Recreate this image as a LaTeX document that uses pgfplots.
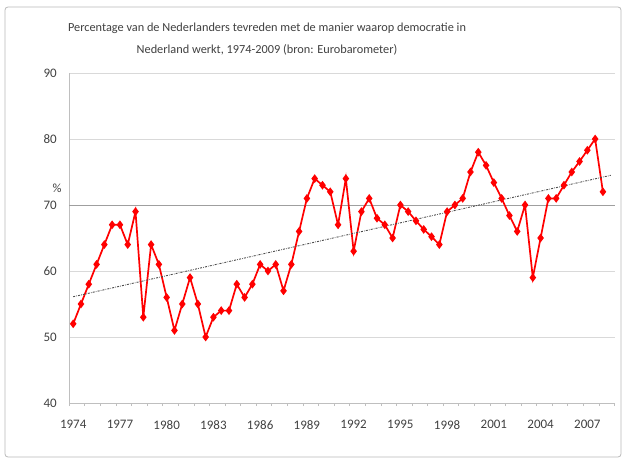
\documentclass[border=0pt]{standalone}
\usepackage{fontspec}
\setmainfont{Carlito}
\usepackage{pgfplots}
\usepackage{pgfplotstable}
\pgfplotsset{compat=1.18}
\definecolor{txt}{HTML}{404040}
\definecolor{axisgray}{HTML}{BFBFBF}
\pgfplotstableread{
x y
0 52
1 55
2 58
3 61
4 64
5 67
6 67
7 64
8 69
9 53
10 64
11 61
12 56
13 51
14 55
15 59
16 55
17 50
18 53
19 54
20 54
21 58
22 56
23 58
24 61
25 60
26 61
27 57
28 61
29 66
30 71
31 74
32 73
33 72
34 67
35 74
36 63
37 69
38 71
39 68
40 67
41 65
42 70
43 69
44 67.6
45 66.3
46 65.2
47 64
48 69
49 70
50 71
51 75
52 78
53 76
54 73.4
55 71
56 68.4
57 66
58 70
59 59
60 65
61 71
62 71
63 73
64 75
65 76.6
66 78.3
67 80
68 72
}\datatable
\begin{document}
\begin{tikzpicture}[x=1pt,y=1pt]
\draw[gray!55, line width=0.8pt, rounded corners=3pt] (5,6) rectangle (621,456);
\node[text=txt, align=center, font=\fontsize{12.3}{22}\selectfont] at (267,424) {Percentage van de Nederlanders tevreden met de manier waarop democratie in\\Nederland werkt, 1974-2009 (bron: Eurobarometer)};
\node[text=txt, font=\fontsize{12.5}{14}\selectfont] at (57,275) {\%};
\begin{axis}[
  at={(69.3pt,60pt)}, anchor=south west,
  scale only axis, width=545.3pt, height=330pt,
  xmin=-0.5, xmax=69.5, ymin=40, ymax=90,
  axis x line*=bottom, axis y line*=left,
  axis line style={axisgray, line width=0.8pt, -},
  xtick={0,6,...,66},
  xticklabels={1974,1977,1980,1983,1986,1989,1992,1995,1998,2001,2004,2007},
  minor xtick={-0.5,1.5,...,69.5},
  tick align=outside,
  major tick length=0pt, minor tick length=3pt,
  minor tick style={axisgray, line width=0.8pt},
  ytick={40,50,...,90},
  ymajorgrids, grid style={gray!30, line width=0.8pt},
  tick label style={font=\fontsize{13}{15}\selectfont, text=txt},
  /pgf/number format/assume math mode=true,
  xticklabel style={yshift=-14pt},
  yticklabel style={xshift=-9pt},
  clip=false,
]
\addplot[gray!75, line width=0.8pt, forget plot] coordinates {(-0.5,70) (69.5,70)};
\addplot[red, line width=1.7pt, mark=diamond*, mark size=3pt, mark options={solid, fill=red}] table[x=x, y=y] {\datatable};
\addplot[black!70, line width=0.9pt, dash pattern=on 2pt off 1.2pt on 0.6pt off 1.2pt] coordinates {(0,56.1) (69,74.5)};
\end{axis}
\pgfresetboundingbox
\path[use as bounding box] (0,0) rectangle (626,463);
\end{tikzpicture}
\end{document}
